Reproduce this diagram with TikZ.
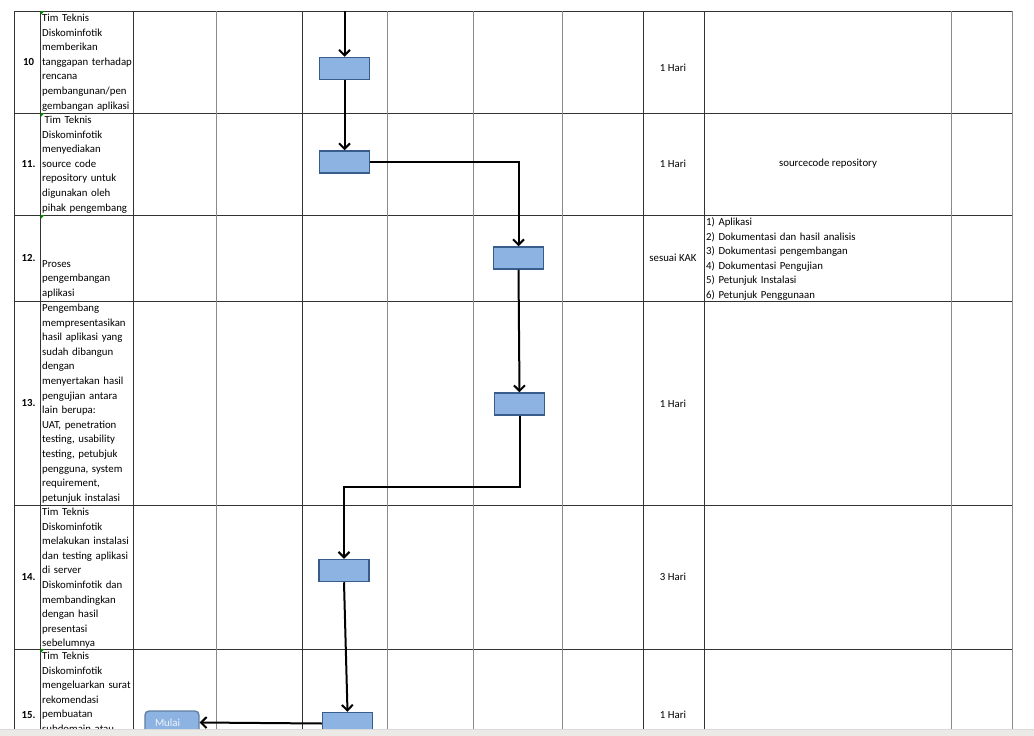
\documentclass[tikz,border=0pt]{standalone}
\usepackage{fontspec}
\setmainfont{Carlito}
\usetikzlibrary{arrows.meta}
\usetikzlibrary{positioning}

\definecolor{boxfill}{HTML}{8DB3E2}
\definecolor{boxline}{HTML}{385D8A}
\definecolor{griddark}{HTML}{333333}
\definecolor{gridgray}{HTML}{8A8A8A}
\definecolor{barfill}{HTML}{ECEAE7}
\newcommand{\cellfont}{\fontsize{10.8}{14.6}\selectfont}

\begin{document}
\begin{tikzpicture}
	[x=1pt,y=-1pt,
	cell/.style={anchor=north west, inner sep=0pt, text width=100pt, align=left, font=\cellfont, execute at begin node=\strut, execute at end node=\strut},
	num/.style={inner sep=0pt, font=\cellfont\bfseries},
	dur/.style={inner sep=0pt, font=\cellfont},
	proc/.style={draw=boxline, fill=boxfill, line width=1.5pt, minimum width=50pt, minimum height=22pt, inner sep=0pt},
	flow/.style={line width=2pt, -{Straight Barb[length=5.5pt,width=11pt]}}];

	\useasboundingbox (0,0) rectangle (1034,736);

	%Grid
	\foreach \y in {11,113,215,301,505,649}
		\draw[griddark, line width=0.9pt] (14,\y) -- (1012,\y);
	\foreach \x in {14,40,133,302,643,704}
		\draw[griddark, line width=0.9pt] (\x,11) -- (\x,729);
	\foreach \x in {216,387,473,562,951,1012}
		\draw[gridgray, line width=1pt] (\x,11) -- (\x,729);

	%green marks
	\foreach \y in {11,113,215,649}
		\fill[green!55!black] (40.5,\y) -- (44.5,\y) -- (40.5,\y+4) -- cycle;

	%Numbers
	\node[num] (n10) at (28.5,62) {10};
	\node[num] (n11) at (28.5,164) {11.};
	\node[num] (n12) at (28.5,258) {12.};
	\node[num] (n13) at (28.5,403) {13.};
	\node[num] (n14) at (28.5,577) {14.};
	\node[num] (n15) at (28.5,715) {15.};

	%Activities
	\node[cell] (t10) at (42,11) {Tim Teknis\\Diskominfotik\\memberikan\\tanggapan terhadap\\rencana\\pembangunan/pen\\gembangan aplikasi};
	\node[cell] (t11) at (42,113) {\hspace{2.5pt}Tim Teknis\\Diskominfotik\\menyediakan\\source code\\repository untuk\\digunakan oleh\\pihak pengembang};
	\node[cell, anchor=south west] (t12) at (42,301) {Proses\\pengembangan\\aplikasi};
	\node[cell] (t13) at (42,301) {Pengembang\\mempresentasikan\\hasil aplikasi yang\\sudah dibangun\\dengan\\menyertakan hasil\\pengujian antara\\lain berupa:\\UAT, penetration\\testing, usability\\testing, petubjuk\\pengguna, system\\requirement,\\petunjuk instalasi};
	\node[cell] (t14) at (42,505) {Tim Teknis\\Diskominfotik\\melakukan instalasi\\dan testing aplikasi\\di server\\Diskominfotik dan\\membandingkan\\dengan hasil\\presentasi\\sebelumnya};
	\node[cell] (t15) at (42,649) {Tim Teknis\\Diskominfotik\\mengeluarkan surat\\rekomendasi\\pembuatan\\subdomain atau};

	%Duration
	\node[dur] (d10) at (673,68) {1 Hari};
	\node[dur] (d11) at (673,164) {1 Hari};
	\node[dur] (d12) at (673,258) {sesuai KAK};
	\node[dur] (d13) at (673,404) {1 Hari};
	\node[dur] (d14) at (673,577) {3 Hari};
	\node[dur] (d15) at (673,715) {1 Hari};

	%Output
	\node[dur] (o11) at (828,164) {sourcecode repository};
	\node[cell, text width=240pt] (o12) at (706,215) {1) Aplikasi\\2) Dokumentasi dan hasil analisis\\3) Dokumentasi pengembangan\\4) Dokumentasi Pengujian\\5) Petunjuk Instalasi\\6) Petunjuk Penggunaan};

	%Flow
	\coordinate (in) at (344.5,11);
	\node[proc] (b10) at (344.5,68.5) {};
	\node[proc] (b11) at (344.5,162) {};
	\node[proc] (b12) at (518.5,258) {};
	\node[proc] (b13) at (519.5,404) {};
	\node[proc] (b14) at (344,570.5) {};
	\node[proc] (b15) at (347.5,723.5) {};
	\node[proc, draw=boxline!80, line width=1.3pt, rounded corners=4pt, minimum width=0pt, text width=34pt, inner xsep=10pt, align=left, text=white!88!boxfill, font=\cellfont, minimum height=23pt] (mulai) at (172,722.5) {Mulai};
	\coordinate (bend) at (430,487);

	\draw[flow] (in) -- (b10.north);
	\draw[flow] (b10.south) -- (b11.north);
	\draw[flow] (b11.east) -| (b12.north);
	\draw[flow] (b12.south) -- (b13.north);
	\draw[flow] (b13.south) |- (bend) -| (b14.north);
	\draw[flow] (b14.south) -- (b15.north);
	\draw[flow] (b15.west) -- (mulai.east);

	%bottom bar
	\fill[barfill] (0,729) rectangle (1034,736);
	\draw[black!15, line width=0.6pt] (0,729) -- (1034,729);
\end{tikzpicture}
\end{document}
